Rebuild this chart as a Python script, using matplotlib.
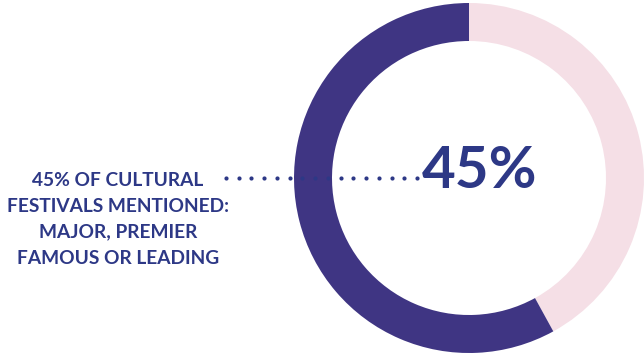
import numpy as np
import matplotlib
matplotlib.use("Agg")
import matplotlib.pyplot as plt

# slice shares as drawn (pink clockwise from top, then purple)
shares = [42, 58]
slice_colors = ['#f5dfe6', '#3f3583']
big_label = '45%'
side_label = ['45% OF CULTURAL', 'FESTIVALS MENTIONED:', 'MAJOR, PREMIER', 'FAMOUS OR LEADING']

text_color = '#2d3886'

fig = plt.figure(figsize=(6.44, 3.54), dpi=100)
ax = fig.add_axes([0, 0, 1, 1])

ax.pie(shares, colors=slice_colors, startangle=90, counterclock=False,
       center=(469, 176), radius=175, frame=True,
       wedgeprops=dict(width=38, linewidth=0))
ax.set_xlim(0, 644)
ax.set_ylim(0, 354)
ax.set_aspect('equal')
ax.axis('off')

ax.text(480, 182, big_label, ha='center', va='center', fontsize=42,
        fontweight='bold', color=text_color, family=['Lato', 'DejaVu Sans'])

for i, line in enumerate(side_label):
    ax.text(118, 174 - i * 26, line, ha='center', va='center', fontsize=13.8,
            fontweight='bold', color=text_color, family=['Lato', 'DejaVu Sans'])

dots_x = np.linspace(226, 417, 16)
ax.scatter(dots_x, np.full_like(dots_x, 176), s=9, color=text_color, linewidths=0)

fig.savefig('out.png', dpi=100)
